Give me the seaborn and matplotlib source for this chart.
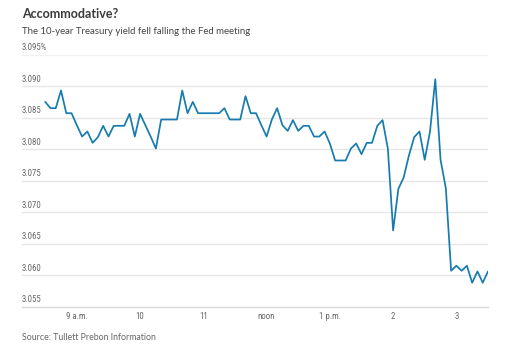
import pandas as pd
import numpy as np
import matplotlib
matplotlib.use("Agg")
import matplotlib.pyplot as plt
from matplotlib import font_manager
import seaborn as sns

# Data: 10-year Treasury yield, 5-minute readings from 8:30 a.m. to 3:30 p.m.
times = pd.date_range("2018-03-21 08:30", periods=85, freq="5min")
yields = [
    3.0875, 3.0865, 3.0865, 3.0893, 3.0857, 3.0857, 3.0838, 3.0820, 3.0828, 3.0810,
    3.0819, 3.0837, 3.0820, 3.0837, 3.0837, 3.0837, 3.0856, 3.0820, 3.0856, 3.0838,
    3.0820, 3.0801, 3.0847, 3.0847, 3.0847, 3.0847, 3.0893, 3.0857, 3.0875, 3.0857,
    3.0857, 3.0857, 3.0857, 3.0857, 3.0865, 3.0847, 3.0847, 3.0847, 3.0884, 3.0857,
    3.0857, 3.0838, 3.0820, 3.0847, 3.0865, 3.0838, 3.0829, 3.0846, 3.0829, 3.0837,
    3.0837, 3.0820, 3.0820, 3.0828, 3.0809, 3.0782, 3.0782, 3.0782, 3.0801, 3.0809,
    3.0792, 3.0810, 3.0810, 3.0837, 3.0846, 3.0801, 3.0671, 3.0737, 3.0755, 3.0790,
    3.0819, 3.0828, 3.0783, 3.0828, 3.0911, 3.0783, 3.0738, 3.0607, 3.0615, 3.0607,
    3.0615, 3.0588, 3.0606, 3.0588, 3.0606,
]
y_ticks = [3.055, 3.060, 3.065, 3.070, 3.075, 3.080, 3.085, 3.090, 3.095]
y_labels = ["3.055", "3.060", "3.065", "3.070", "3.075", "3.080", "3.085", "3.090", "3.095%"]
x_ticks = pd.to_datetime(["2018-03-21 09:00", "2018-03-21 10:00", "2018-03-21 11:00",
                          "2018-03-21 12:00", "2018-03-21 13:00", "2018-03-21 14:00",
                          "2018-03-21 15:00"])
x_labels = ["9 a.m.", "10", "11", "noon", "1 p.m.", "2", "3"]

df = pd.DataFrame({"time": times, "yield": yields})

sns.set_style("white")
names = {f.name for f in font_manager.fontManager.ttflist}
narrow = "Lato"
for cand in ["Roboto Condensed", "Liberation Sans Narrow", "Open Sans Condensed", "DejaVu Sans Condensed"]:
    if cand in names:
        narrow = cand
        break
plt.rcParams["font.family"] = ["Lato", "DejaVu Sans"]

fig = plt.figure(figsize=(5.07, 3.51), dpi=100)
W, H = 507, 351
ax = fig.add_axes([22 / W, 1 - 306.7 / H, (488 - 22) / W, (306.7 - 54.6) / H])

sns.lineplot(data=df, x="time", y="yield", ax=ax, color="#167cae", linewidth=1.25)

ax.set_ylim(3.055, 3.095)
ax.set_xlim(pd.Timestamp("2018-03-21 08:08"), pd.Timestamp("2018-03-21 15:30"))
ax.set_xlabel("")
ax.set_ylabel("")

for s in ["top", "right", "left"]:
    ax.spines[s].set_visible(False)
ax.spines["bottom"].set_color("#d9d9d9")
ax.spines["bottom"].set_linewidth(1)

for v in y_ticks[1:]:
    ax.axhline(v, color="#e6e6e6" if v < 3.095 else "#f0f0f0", linewidth=1, zorder=0)

ax.set_yticks([])
for v, lab in zip(y_ticks, y_labels):
    ax.text(0, v + 0.0004, lab, transform=ax.get_yaxis_transform(), ha="left",
            va="bottom", fontsize=6.3, color="#666666", family=narrow)

ax.set_xticks(x_ticks)
ax.set_xticklabels(x_labels, family=narrow, fontsize=6.3, color="#666666")
ax.tick_params(axis="x", direction="inout", length=4, width=0.8, color="#555555", pad=2)

fig.text(22 / W, 1 - 14 / H, "Accommodative?", fontsize=9, fontweight="bold",
         color="#3a3a3a", va="center", ha="left")
fig.text(22 / W, 1 - 31 / H, "The 10-year Treasury yield fell falling the Fed meeting",
         fontsize=6.9, color="#444444", va="center", ha="left")
fig.text(22 / W, 1 - 338 / H, "Source: Tullett Prebon Information",
         fontsize=6.3, color="#666666", va="center", ha="left")

fig.savefig("out.png", dpi=100)
